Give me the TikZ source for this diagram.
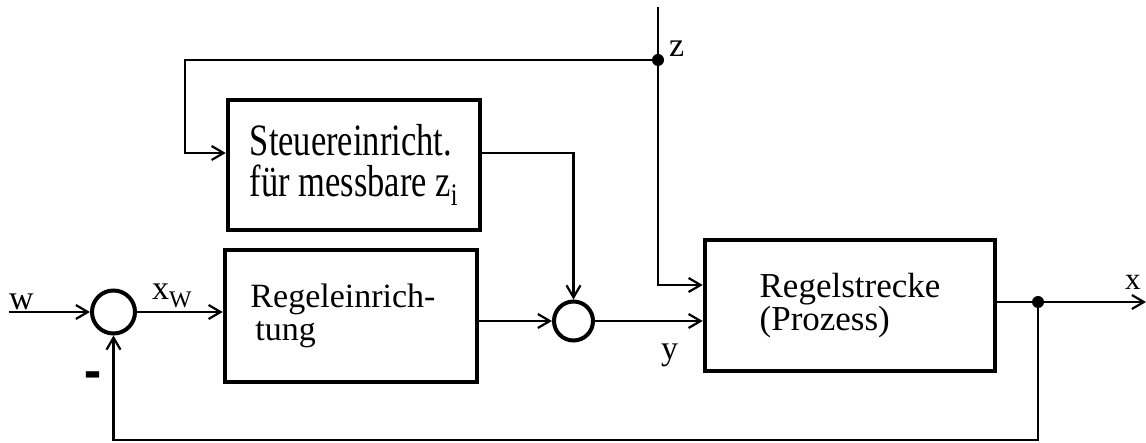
\documentclass[tikz,border=0pt]{standalone}
\usepackage{fontspec}
\usepackage{graphicx}
\setmainfont{Liberation Serif}
\usetikzlibrary{arrows.meta}
\begin{document}
\begin{tikzpicture}[x=1pt,y=-1pt,
  blk/.style={draw, line width=4.5pt, inner sep=0pt, align=left},
  sumA/.style={draw, circle, line width=4pt, minimum size=43pt, inner sep=0pt},
  sumB/.style={draw, circle, line width=4pt, minimum size=39pt, inner sep=0pt},
  sig/.style={line width=2.5pt, -{Straight Barb[length=12pt,width=14pt,line width=2.2pt]}},
  ln/.style={line width=2.5pt},
  lbl/.style={font=\fontsize{34}{34}\selectfont, inner sep=0pt, anchor=base west},
  jdot/.style={circle, fill, inner sep=0pt, minimum size=12pt}]
\useasboundingbox (0,0) rectangle (1146,443);

% blocks
\node[blk, minimum width=252pt, minimum height=130pt] (st) at (354,165)
  {\scalebox{1}[1.3]{\fontsize{34.5}{23}\selectfont\begin{tabular}{@{}l@{}}Steuereinricht.\\ für messbare z\textsubscript{i}\end{tabular}}};
\node[blk, minimum width=252pt, minimum height=132pt,
  font=\fontsize{34}{33}\selectfont] (rg) at (351,316)
  {Regeleinrich-\hspace*{16pt}\mbox{}\\\hspace*{5pt}tung};
\node[blk, minimum width=290pt, minimum height=131pt,
  font=\fontsize{35}{30}\selectfont] (ps) at (850,305.5)
  {Regelstrecke\\(Prozess)};

% summing points and junctions
\node[sumA] (s1) at (113.5,312) {};
\node[sumB] (s2) at (573.5,321) {};
\node[jdot] (d1) at (658,60) {};
\node[jdot] (d2) at (1038,302) {};

% helper coordinates
\coordinate (win) at (9,312);
\coordinate (ztop) at (658,7);
\coordinate (lc) at (185,60);
\coordinate (sty) at (0,153);
\coordinate (zy) at (0,285);
\coordinate (xout) at (1146,302);
\coordinate (fb) at (1038,440);

% connectors
\draw[sig] (win) -- (s1);
\draw[sig] (s1) -- (s1 -| rg.west);
\draw[sig] (rg.east |- s2) -- (s2);
\draw[sig] (s2) -- (s2 -| ps.west);
\draw[sig] (st.east |- sty) -| (s2);
\draw[ln] (ztop) -- (d1);
\draw[sig] (d1) |- (ps.west |- zy);
\draw[sig] (d1) -- (lc) |- (st.west |- sty);
\draw[sig] (ps.east |- xout) -- (xout);
\draw[sig] (d2) -- (fb) -| (s1);

% labels
\node[lbl] (lw) at (9,310) {w};
\node[lbl] (lxw) at (152,300) {x\textsubscript{W}};
\node[lbl] (ly) at (661,360) {y};
\node[lbl] (lz) at (669,57) {z};
\node[lbl, font=\fontsize{31}{31}\selectfont] (lx) at (1125,290) {x};
\node[lbl, anchor=center, font=\bfseries\fontsize{34}{34}\selectfont] (lm) at (93,382) {\scalebox{1.5}[2.2]{-}};
\end{tikzpicture}
\end{document}
